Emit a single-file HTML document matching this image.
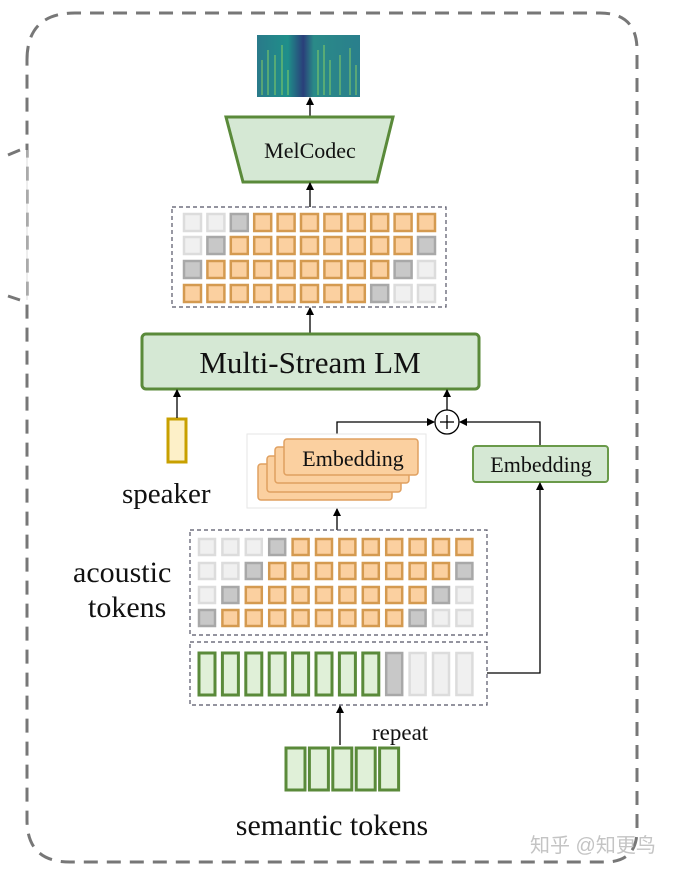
<!DOCTYPE html>
<html><head><meta charset="utf-8"><style>
html,body{margin:0;padding:0;background:#fff;width:677px;height:873px;overflow:hidden}
svg{display:block}
text{font-family:"Liberation Serif",serif;fill:#111}
</style></head><body>
<svg id="s" width="677" height="873" viewBox="0 0 677 873" xmlns="http://www.w3.org/2000/svg">
<defs>
<marker id="a" markerWidth="8" markerHeight="8" refX="7" refY="4" orient="auto" markerUnits="userSpaceOnUse"><path d="M0,0 L8,4 L0,8 z" fill="#000"/></marker>
<linearGradient id="sp" x1="0" x2="1">
<stop offset="0" stop-color="#2a7a8a"/><stop offset="0.3" stop-color="#1f8f8a"/><stop offset="0.45" stop-color="#2a3f7a"/><stop offset="0.55" stop-color="#2a8a88"/><stop offset="1" stop-color="#2a7f8c"/></linearGradient>
</defs>
<path d="M27,60 Q27,13 75,13 L600,13 Q637,13 637,50 L637,830 Q637,862 605,862 L70,862 Q27,862 27,820 Z" fill="none" stroke="#777" stroke-width="3" stroke-dasharray="14,9"/>
<rect x="0" y="150" width="26" height="152" fill="#fff"/>
<line x1="27" y1="150" x2="27" y2="300" stroke="#ddd" stroke-width="1"/>
<line x1="8" y1="155" x2="20" y2="150" stroke="#777" stroke-width="3"/>
<line x1="8" y1="296" x2="20" y2="300" stroke="#777" stroke-width="3"/>
<rect x="257" y="35" width="103" height="62" fill="url(#sp)"/>
<g stroke="#9fe05a" stroke-width="1" opacity="0.8">
<line x1="262" y1="60" x2="262" y2="95"/><line x1="268" y1="50" x2="268" y2="95"/><line x1="275" y1="55" x2="275" y2="95"/><line x1="282" y1="45" x2="282" y2="95"/><line x1="288" y1="70" x2="288" y2="95"/>
<line x1="318" y1="50" x2="318" y2="95"/><line x1="324" y1="45" x2="324" y2="95"/><line x1="330" y1="60" x2="330" y2="95"/><line x1="340" y1="55" x2="340" y2="95"/><line x1="350" y1="48" x2="350" y2="95"/><line x1="356" y1="65" x2="356" y2="95"/>
</g>
<line x1="310" y1="117" x2="310" y2="98" stroke="#000" stroke-width="1.3" marker-end="url(#a)"/>
<polygon points="226,117 393,117 377,182 243,182" fill="#d5e8d4" stroke="#5a8a3a" stroke-width="3"/>
<text x="310" y="158" font-size="22" text-anchor="middle">MelCodec</text>
<line x1="310" y1="207" x2="310" y2="183" stroke="#000" stroke-width="1.3" marker-end="url(#a)"/>
<rect x="172" y="207" width="274" height="100" fill="none" stroke="#556" stroke-width="1.2" stroke-dasharray="4,3"/>
<g id="g1"></g>
<line x1="310" y1="333" x2="310" y2="308" stroke="#000" stroke-width="1.3" marker-end="url(#a)"/>
<rect x="142" y="334" width="337" height="55" rx="4" fill="#d5e8d4" stroke="#5a8a3a" stroke-width="3"/>
<text x="310" y="373" font-size="31" text-anchor="middle">Multi-Stream LM</text>
<rect x="168" y="419" width="18" height="43" fill="#fdf0c8" stroke="#c8a000" stroke-width="3"/>
<line x1="177" y1="418" x2="177" y2="390" stroke="#000" stroke-width="1.3" marker-end="url(#a)"/>
<text x="122" y="503" font-size="29">speaker</text>
<circle cx="447" cy="422" r="12" fill="#fff" stroke="#000" stroke-width="1.3"/>
<line x1="440" y1="422" x2="454" y2="422" stroke="#000" stroke-width="1.3"/><line x1="447" y1="415" x2="447" y2="429" stroke="#000" stroke-width="1.3"/>
<line x1="447" y1="410" x2="447" y2="390" stroke="#000" stroke-width="1.3" marker-end="url(#a)"/>
<polyline points="337,434 337,422 434,422" fill="none" stroke="#000" stroke-width="1.3" marker-end="url(#a)"/>
<polyline points="540,446 540,422 460,422" fill="none" stroke="#000" stroke-width="1.3" marker-end="url(#a)"/>
<rect x="247" y="434" width="179" height="74" fill="#fff" stroke="#e6e6e6" stroke-width="1"/>
<rect x="258" y="464" width="134" height="36" rx="3" fill="#fbd0a0" stroke="#e0a060" stroke-width="1.5"/>
<rect x="267" y="456" width="134" height="36" rx="3" fill="#fbd0a0" stroke="#e0a060" stroke-width="1.5"/>
<rect x="275" y="447" width="134" height="36" rx="3" fill="#fbd0a0" stroke="#e0a060" stroke-width="1.5"/>
<rect x="284" y="439" width="134" height="36" rx="3" fill="#fbd0a0" stroke="#e0a060" stroke-width="1.5"/>
<text x="353" y="466" font-size="22" text-anchor="middle">Embedding</text>
<rect x="473" y="446" width="135" height="36" rx="3" fill="#d5e8d4" stroke="#6a9a4a" stroke-width="2"/>
<text x="541" y="472" font-size="22" text-anchor="middle">Embedding</text>
<line x1="337" y1="530" x2="337" y2="509" stroke="#000" stroke-width="1.3" marker-end="url(#a)"/>
<rect x="190" y="530" width="297" height="105" fill="none" stroke="#556" stroke-width="1.2" stroke-dasharray="4,3"/>
<g id="g2"></g>
<text x="73" y="582" font-size="30">acoustic</text>
<text x="88" y="617" font-size="30">tokens</text>
<rect x="190" y="642" width="297" height="63" fill="none" stroke="#556" stroke-width="1.2" stroke-dasharray="4,3"/>
<g id="g3"></g>
<polyline points="487,673 540,673 540,483" fill="none" stroke="#000" stroke-width="1.3" marker-end="url(#a)"/>
<line x1="340" y1="745" x2="340" y2="706" stroke="#000" stroke-width="1.3" marker-end="url(#a)"/>
<text x="372" y="740" font-size="23">repeat</text>
<g id="g4"></g>
<text x="332" y="835" font-size="30" text-anchor="middle">semantic tokens</text>
<text x="530" y="852" font-size="20" style="font-family:'Liberation Sans','Noto Sans CJK SC',sans-serif;fill:#c4c4c4">知乎 @知更鸟</text>
</svg>
<script>
var NS="http://www.w3.org/2000/svg";
var st={L:["#f0f0f0","#dcdcdc"],D:["#c8c8c8","#a8a8a8"],O:["#fbd0a0","#d49a50"],G:["#e0f0d8","#5a8a3a"]};
function r(g,x,y,w,h,t){var e=document.createElementNS(NS,"rect");e.setAttribute("x",x);e.setAttribute("y",y);e.setAttribute("width",w);e.setAttribute("height",h);e.setAttribute("fill",st[t][0]);e.setAttribute("stroke",st[t][1]);e.setAttribute("stroke-width",t=="G"?3:2.5);document.getElementById(g).appendChild(e);}
var top1=["LLDOOOOOOOO","LDOOOOOOOOD","DOOOOOOOODL","OOOOOOOODLL"];
var ty=[214,237,261,285];
top1.forEach(function(row,i){for(var j=0;j<row.length;j++)r("g1",184+j*23.4,ty[i],17,17,row[j]);});
var bot=["LLLDOOOOOOOO","LLDOOOOOOOOD","LDOOOOOOOODL","DOOOOOOOODLL"];
var by=[539,563,587,610];
bot.forEach(function(row,i){for(var j=0;j<row.length;j++)r("g2",199+j*23.4,by[i],16,16,row[j]);});
var sem="GGGGGGGGDLLL";
for(var j=0;j<12;j++)r("g3",199+j*23.4,653,16,42,sem[j]);
for(var j=0;j<5;j++)r("g4",286+j*23.4,748,19,42,"G");
</script>
</body></html>
